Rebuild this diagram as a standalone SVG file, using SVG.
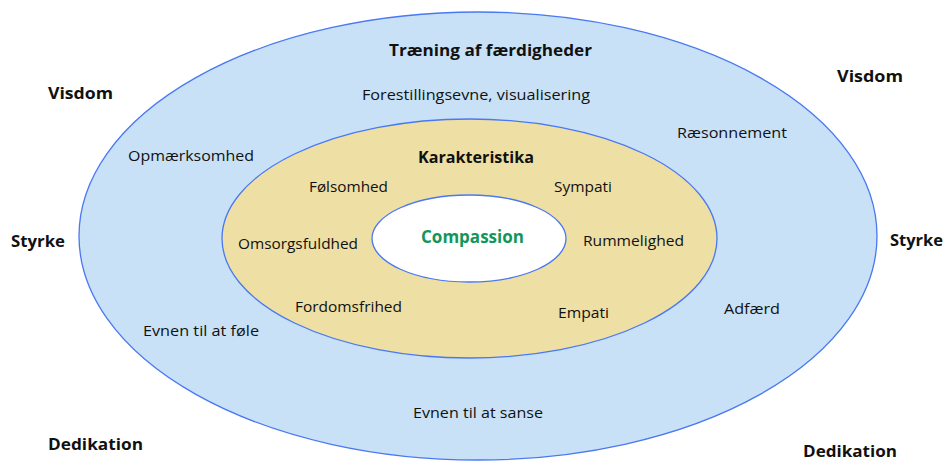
<svg xmlns="http://www.w3.org/2000/svg" width="947" height="461" viewBox="0 0 947 461">
  <style>
    .ring { stroke: #4A78F2; stroke-width: 1.3; }
    .outer { fill: #C8E1F7; }
    .mid { fill: #EEDFA4; }
    .core { fill: #FFFFFF; }
    text { font-family: "Open Sans", "Liberation Sans", sans-serif; fill: #111111; text-anchor: middle; }
    .t { font-size: 14.5px; }
    .h { font-size: 15.5px; font-weight: bold; }
    .c { font-size: 17.5px; font-weight: bold; fill: #13965A; }
  </style>
  <rect width="947" height="461" fill="#FFFFFF"/>

  <!-- outer ring: skills training -->
  <g id="ring-skills">
    <ellipse class="ring outer" cx="478" cy="236" rx="399" ry="224"/>
    <text class="h" x="490.5" y="56" textLength="203" lengthAdjust="spacingAndGlyphs">Træning af færdigheder</text>
    <text class="t" x="476" y="100" textLength="228" lengthAdjust="spacingAndGlyphs">Forestillingsevne, visualisering</text>
    <text class="t" x="191" y="161" textLength="126" lengthAdjust="spacingAndGlyphs">Opmærksomhed</text>
    <text class="t" x="732" y="138" textLength="110" lengthAdjust="spacingAndGlyphs">Ræsonnement</text>
    <text class="t" x="201" y="336" textLength="116" lengthAdjust="spacingAndGlyphs">Evnen til at føle</text>
    <text class="t" x="752" y="314" textLength="56" lengthAdjust="spacingAndGlyphs">Adfærd</text>
    <text class="t" x="478" y="418" textLength="130" lengthAdjust="spacingAndGlyphs">Evnen til at sanse</text>
  </g>

  <!-- middle ring: characteristics -->
  <g id="ring-traits">
    <ellipse class="ring mid" cx="469.5" cy="238.5" rx="247.5" ry="119.5"/>
    <text class="h" x="476" y="163" textLength="116" lengthAdjust="spacingAndGlyphs">Karakteristika</text>
    <text class="t" x="348.5" y="192" textLength="79" lengthAdjust="spacingAndGlyphs">Følsomhed</text>
    <text class="t" x="583" y="192" textLength="58" lengthAdjust="spacingAndGlyphs">Sympati</text>
    <text class="t" x="298" y="249" textLength="120" lengthAdjust="spacingAndGlyphs">Omsorgsfuldhed</text>
    <text class="t" x="633.5" y="246" textLength="101" lengthAdjust="spacingAndGlyphs">Rummelighed</text>
    <text class="t" x="348.5" y="312" textLength="107" lengthAdjust="spacingAndGlyphs">Fordomsfrihed</text>
    <text class="t" x="583.5" y="318" textLength="51" lengthAdjust="spacingAndGlyphs">Empati</text>
  </g>

  <!-- centre -->
  <g id="core-compassion">
    <ellipse class="ring core" cx="469" cy="238.5" rx="97" ry="43.5"/>
    <text class="c" x="472.5" y="243" textLength="103" lengthAdjust="spacingAndGlyphs">Compassion</text>
  </g>

  <!-- corner qualities -->
  <g id="qualities">
    <text class="h" x="80.5" y="99" textLength="65" lengthAdjust="spacingAndGlyphs">Visdom</text>
    <text class="h" x="870" y="82" textLength="66" lengthAdjust="spacingAndGlyphs">Visdom</text>
    <text class="h" x="38" y="247" textLength="54" lengthAdjust="spacingAndGlyphs">Styrke</text>
    <text class="h" x="916.5" y="246" textLength="53" lengthAdjust="spacingAndGlyphs">Styrke</text>
    <text class="h" x="95.5" y="450" textLength="95" lengthAdjust="spacingAndGlyphs">Dedikation</text>
    <text class="h" x="850" y="457" textLength="94" lengthAdjust="spacingAndGlyphs">Dedikation</text>
  </g>
</svg>
